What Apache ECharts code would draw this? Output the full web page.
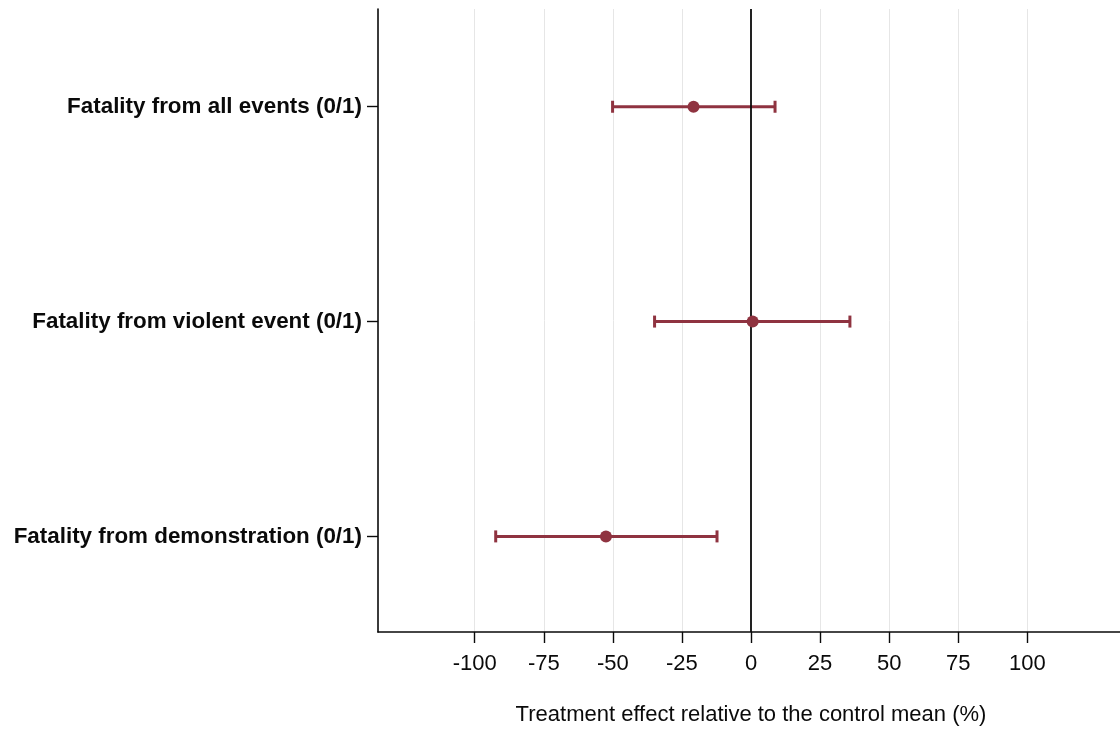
<!DOCTYPE html>
<html>
<head>
<meta charset="utf-8">
<script src="https://cdn.jsdelivr.net/npm/echarts@6/dist/echarts.min.js"></script>
<style>
  html, body { margin: 0; padding: 0; background: #fff; }
  #chart { width: 1120px; height: 729px; }
</style>
</head>
<body>
<div id="chart"></div>
<script>
// Outcomes, top to bottom
const outcomes = [
  'Fatality from all events (0/1)',
  'Fatality from violent event (0/1)',
  'Fatality from demonstration (0/1)'
];
// Point estimates and confidence bounds (% of control mean)
const estimates = [-20.8, 0.6, -52.5];
const ciLower = [-50.1, -34.9, -92.4];
const ciUpper = [8.7, 35.8, -12.3];
// X axis tick values
const xTicks = [-100, -75, -50, -25, 0, 25, 50, 75, 100];
const gridTicks = [-100, -75, -50, -25, 25, 50, 75, 100];

const RED = '#8f3340';
const INK = '#0a0a0a';
const FONT = '"Liberation Sans", Arial, sans-serif';

const rows = outcomes.map((_, i) => i + 1);
const barData = rows.map((r, i) => [ciLower[i], ciUpper[i], r]);
const pointData = rows.map((r, i) => [estimates[i], r]);

const chart = echarts.init(document.getElementById('chart'), null, { renderer: 'canvas' });

chart.setOption({
  animation: false,
  backgroundColor: '#ffffff',
  grid: { left: 378, top: 9, width: 746, height: 623, containLabel: false, outerBoundsMode: 'none' },
  xAxis: {
    type: 'value',
    min: -135,
    max: 135,
    name: 'Treatment effect relative to the control mean (%)',
    nameLocation: 'middle',
    nameGap: 72,
    nameTextStyle: { fontFamily: FONT, fontSize: 22, color: INK },
    axisLine: { show: true, onZero: false, lineStyle: { color: INK, width: 1.6 } },
    axisTick: { show: true, length: 11, customValues: xTicks, lineStyle: { color: INK, width: 1.4 } },
    axisLabel: { customValues: xTicks, margin: 21, fontFamily: FONT, fontSize: 22, color: INK },
    splitLine: { show: false }
  },
  yAxis: {
    type: 'value',
    inverse: true,
    min: 0.545,
    max: 3.445,
    axisLine: { show: true, onZero: false, lineStyle: { color: INK, width: 1.6 } },
    axisTick: { show: true, length: 11, customValues: rows, lineStyle: { color: INK, width: 1.4 } },
    axisLabel: {
      customValues: rows,
      margin: 16,
      fontFamily: FONT,
      fontSize: 22.4,
      fontWeight: 'bold',
      color: INK,
      formatter: v => outcomes[Math.round(v) - 1] || ''
    },
    splitLine: { show: false }
  },
  series: [
    {
      // light vertical grid lines
      type: 'scatter',
      data: [],
      z: 0,
      silent: true,
      markLine: {
        z: 0,
        silent: true,
        symbol: 'none',
        label: { show: false },
        lineStyle: { color: '#e6e6e6', width: 1, type: 'solid' },
        data: gridTicks.map(v => ({ xAxis: v }))
      }
    },
    {
      // confidence intervals with end caps
      type: 'custom',
      z: 1,
      data: barData,
      encode: { x: [0, 1], y: 2 },
      renderItem: (params, api) => {
        const y = api.value(2);
        const a = api.coord([api.value(0), y]);
        const b = api.coord([api.value(1), y]);
        const h = 6;
        const style = { stroke: RED, lineWidth: 3, fill: null };
        return {
          type: 'group',
          children: [
            { type: 'line', shape: { x1: a[0], y1: a[1], x2: b[0], y2: b[1] }, style },
            { type: 'line', shape: { x1: a[0], y1: a[1] - h, x2: a[0], y2: a[1] + h }, style },
            { type: 'line', shape: { x1: b[0], y1: b[1] - h, x2: b[0], y2: b[1] + h }, style }
          ]
        };
      }
    },
    {
      // zero reference line
      type: 'scatter',
      data: [],
      z: 2,
      silent: true,
      markLine: {
        z: 2,
        silent: true,
        symbol: 'none',
        label: { show: false },
        lineStyle: { color: INK, width: 1.8, type: 'solid' },
        data: [{ xAxis: 0 }]
      }
    },
    {
      // point estimates
      type: 'scatter',
      z: 3,
      data: pointData,
      symbol: 'circle',
      symbolSize: 12,
      itemStyle: { color: RED, opacity: 1 }
    }
  ]
});
</script>
</body>
</html>
